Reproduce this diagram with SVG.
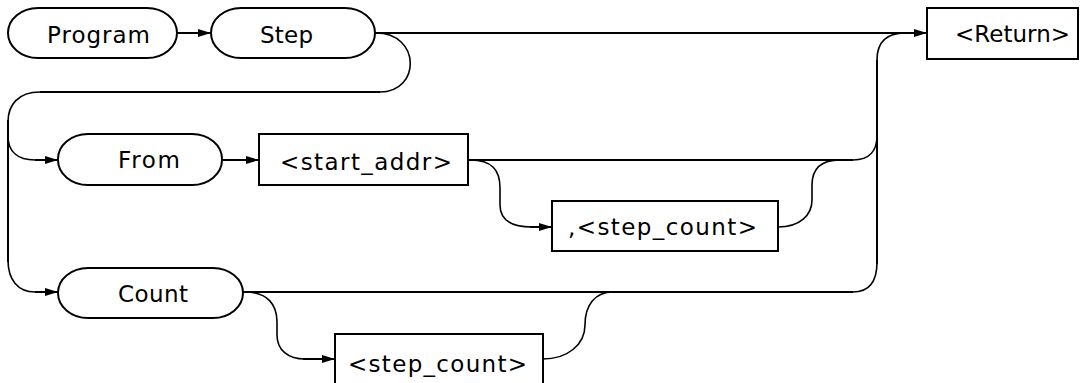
<svg xmlns="http://www.w3.org/2000/svg" width="1084" height="383" viewBox="0 0 1084 383">
<style>
.node{fill:#fff;stroke:#000;stroke-width:2}
.t{font-family:"DejaVu Sans","Liberation Sans",Arial,sans-serif;font-size:23px;fill:#000}
.c{fill:none;stroke:#000;stroke-width:2}
.cv{fill:none;stroke:#000;stroke-width:1.6}
</style>
<defs>
<marker id="ah" markerUnits="userSpaceOnUse" markerWidth="14" markerHeight="10" refX="13" refY="4.5" orient="auto">
<path d="M0,0.5 L13,4.5 L0,8.5 Z" fill="#000"/>
</marker>
</defs>
<rect width="1084" height="383" fill="#fff"/>
<g id="connectors">
<path class="c" d="M177,33 H211" marker-end="url(#ah)"/>
<path class="c" d="M375,33 H927" marker-end="url(#ah)"/>
<path class="cv" d="M376,33 C421,33 421,92 380,92"/>
<path class="c" d="M380,92 H40"/>
<path class="cv" d="M40,92 C18,92 8,105 8,122"/>
<path class="c" d="M8,120 V262"/>
<path class="cv" d="M8,136 C8,152 18,160 35,160"/>
<path class="c" d="M35,160 H58" marker-end="url(#ah)"/>
<path class="cv" d="M8,260 C8,280 18,292 35,292"/>
<path class="c" d="M35,292 H58" marker-end="url(#ah)"/>
<path class="c" d="M222,160 H259" marker-end="url(#ah)"/>
<path class="c" d="M468,160 H853"/>
<path class="cv" d="M853,160 C870,160 877,150 877,136"/>
<path class="cv" d="M470,160 C492,160 500,170 500,188 V205 C500,220 512,227 532,227"/>
<path class="c" d="M530,227 H552" marker-end="url(#ah)"/>
<path class="cv" d="M778,227 C800,227 812,215 812,200 V185 C812,168 822,160 840,160"/>
<path class="c" d="M243,292 H853"/>
<path class="cv" d="M853,292 C870,292 877,280 877,262"/>
<path class="c" d="M877,264 V60"/>
<path class="cv" d="M877,60 C877,42 887,33 905,33"/>
<path class="cv" d="M245,292 C268,292 277,305 277,322 V335 C277,350 288,359 305,359"/>
<path class="c" d="M303,359 H335" marker-end="url(#ah)"/>
<path class="cv" d="M543,359 C567,359 585,345 585,325 C585,305 595,292 613,292"/>
</g>
<g id="program">
<rect class="node" x="8" y="8" width="169" height="50" rx="30" ry="25"/>
<text class="t" x="47" y="43" textLength="103">Program</text>
</g>
<g id="step">
<rect class="node" x="211" y="8" width="164" height="50" rx="30" ry="25"/>
<text class="t" x="260" y="43" textLength="53">Step</text>
</g>
<g id="return">
<rect class="node" x="927" y="8" width="151" height="51"/>
<text class="t" x="955" y="42" textLength="115">&lt;Return&gt;</text>
</g>
<g id="from">
<rect class="node" x="58" y="134" width="164" height="51" rx="30" ry="25"/>
<text class="t" x="118" y="168" textLength="62">From</text>
</g>
<g id="start_addr">
<rect class="node" x="259" y="134" width="209" height="51"/>
<text class="t" x="280" y="170" textLength="172">&lt;start_addr&gt;</text>
</g>
<g id="comma_step_count">
<rect class="node" x="552" y="201" width="226" height="50"/>
<text class="t" x="568" y="235" textLength="189">,&lt;step_count&gt;</text>
</g>
<g id="count">
<rect class="node" x="58" y="268" width="185" height="50" rx="30" ry="25"/>
<text class="t" x="118" y="302" textLength="70">Count</text>
</g>
<g id="step_count">
<rect class="node" x="335" y="334" width="208" height="52"/>
<text class="t" x="348" y="372" textLength="179">&lt;step_count&gt;</text>
</g>
</svg>
